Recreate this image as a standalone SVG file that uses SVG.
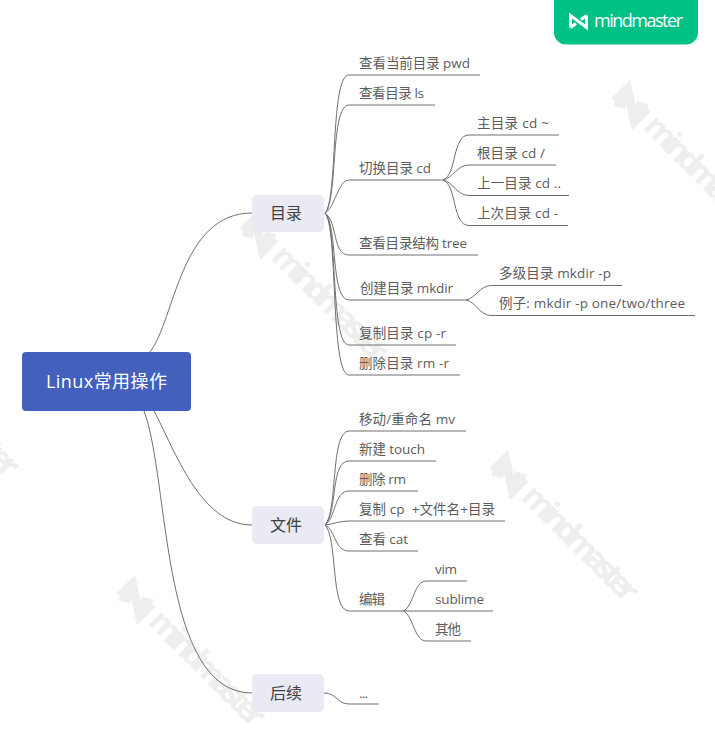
<svg xmlns="http://www.w3.org/2000/svg" width="715" height="732" viewBox="0 0 715 732">
<style>
text{font-family:"Open Sans","Noto Sans CJK SC",sans-serif}
.t{font-size:13.500px;fill:#5c5c5c}
.b{font-size:16px;fill:#404040}
.r{font-size:18px;fill:#fff}
.c{fill:none;stroke:#707070;stroke-width:1}
.n{fill:#e9eaf3}
.w{font-size:32px;font-weight:700;fill:#eeeeee}
.wi{fill:none;stroke:#eeeeee;stroke-width:9;stroke-linejoin:miter}
</style>
<defs>
<g id="wm">
<path class="wi" transform="translate(19 20) rotate(45)" d="M-14 9V-9L14 9V-9M-14 9L-4 3M14 -9L4 -3"/>
<text class="w" transform="translate(30 43) rotate(45)" textLength="150" lengthAdjust="spacing">mindmaster</text>
</g>
</defs>
<g id="watermarks">
<use href="#wm" x="612" y="85"/>
<use href="#wm" x="240" y="215"/>
<use href="#wm" x="490" y="455"/>
<use href="#wm" x="117" y="580"/>
<use href="#wm" x="-129" y="330"/>
</g>
<g id="badge">
<rect x="554" y="-12" width="144" height="56.500" rx="12" fill="#00c185"/>
<path d="M570.500 27.500V15.500L586.500 27.500V15.500M570.500 27.500L576 23.500M586.500 15.500L581 19.500" fill="none" stroke="#fff" stroke-width="3"/>
<text x="594" y="27" font-size="18" fill="#fff" textLength="89" lengthAdjust="spacing">mindmaster</text>
</g>
<g id="connectors">
<path class="c" d="M150 352C175 320 180 213 252 213"/>
<path class="c" d="M154 411C175 450 200 525 252 525"/>
<path class="c" d="M144 411C170 480 160 693 252 693"/>
<path class="c" d="M325 213C338 200 330 75 349 75H480"/>
<path class="c" d="M325 213C338 200 330 105 349 105H435"/>
<path class="c" d="M325 213C335 208 338 180 349 180H443"/>
<path class="c" d="M325 213C338 222 332 255 349 255H478"/>
<path class="c" d="M325 213C338 225 330 300 349 300H466"/>
<path class="c" d="M325 213C338 225 330 345 349 345H456"/>
<path class="c" d="M325 213C338 225 330 375 349 375H460"/>
<path class="c" d="M443 180C457 175 452 135 469 135H559"/>
<path class="c" d="M443 180C453 178 457 165 469 165H556"/>
<path class="c" d="M443 180C453 182 457 195.500 469 195.500H569"/>
<path class="c" d="M443 180C457 185 452 225.500 469 225.500H568"/>
<path class="c" d="M466 300C476 298 480 285.500 491 285.500H622"/>
<path class="c" d="M466 300C476 302 480 315.500 491 315.500H695"/>
<path class="c" d="M325 525C338 512 330 431 349 431H466"/>
<path class="c" d="M325 525C338 512 330 461 349 461H436"/>
<path class="c" d="M325 525C336 518 334 491 349 491H418"/>
<path class="c" d="M325 525C333 524 340 521 349 521H505"/>
<path class="c" d="M325 525C336 530 334 551 349 551H418"/>
<path class="c" d="M325 525C338 538 330 611 349 611H403"/>
<path class="c" d="M403 611C413 608 414 581 426 581H467"/>
<path class="c" d="M403 611H493"/>
<path class="c" d="M403 611C413 614 414 641 426 641H471"/>
<path class="c" d="M324 693C337 693 337 704 349 704H379"/>
</g>
<g id="root"><rect x="22" y="352" width="169" height="59" rx="4" fill="#4260bc"/><text class="r" x="46" y="388" textLength="121" lengthAdjust="spacing">Linux常用操作</text></g>
<g id="n-dir"><rect class="n" x="252" y="195" width="72" height="37" rx="5"/><text class="b" x="270" y="219">目录</text></g>
<g id="n-file"><rect class="n" x="252" y="506" width="72" height="38" rx="5"/><text class="b" x="270" y="531">文件</text></g>
<g id="n-next"><rect class="n" x="252" y="674" width="72" height="38" rx="5"/><text class="b" x="270" y="699">后续</text></g>
<g id="l1"><text class="t" x="359" y="68" textLength="111" lengthAdjust="spacing">查看当前目录 pwd</text></g>
<g id="l2"><text class="t" x="359" y="98" textLength="65" lengthAdjust="spacing">查看目录 ls</text></g>
<g id="l3"><text class="t" x="359" y="173" textLength="72" lengthAdjust="spacing">切换目录 cd</text></g>
<g id="l3a"><text class="t" x="477" y="128" textLength="72" lengthAdjust="spacing">主目录 cd ~</text></g>
<g id="l3b"><text class="t" x="477" y="158" textLength="68" lengthAdjust="spacing">根目录 cd /</text></g>
<g id="l3c"><text class="t" x="477" y="188" textLength="84" lengthAdjust="spacing">上一目录 cd ..</text></g>
<g id="l3d"><text class="t" x="477" y="218" textLength="81" lengthAdjust="spacing">上次目录 cd -</text></g>
<g id="l4"><text class="t" x="359" y="248" textLength="108" lengthAdjust="spacing">查看目录结构 tree</text></g>
<g id="l5"><text class="t" x="360" y="293" textLength="93" lengthAdjust="spacing">创建目录 mkdir</text></g>
<g id="l5a"><text class="t" x="499" y="278" textLength="112" lengthAdjust="spacing">多级目录 mkdir -p</text></g>
<g id="l5b"><text class="t" x="499" y="308" textLength="186" lengthAdjust="spacing">例子: mkdir -p one/two/three</text></g>
<g id="l6"><text class="t" x="359" y="338" textLength="87" lengthAdjust="spacing">复制目录 cp -r</text></g>
<g id="l7"><text class="t" x="359" y="368" textLength="90" lengthAdjust="spacing">删除目录 rm -r</text></g>
<g id="f1"><text class="t" x="359" y="424" textLength="96" lengthAdjust="spacing">移动/重命名 mv</text></g>
<g id="f2"><text class="t" x="359" y="454" textLength="66" lengthAdjust="spacing">新建 touch</text></g>
<g id="f3"><text class="t" x="359" y="484" textLength="47" lengthAdjust="spacing">删除 rm</text></g>
<g id="f4"><text class="t" x="359" y="514" textLength="136" lengthAdjust="spacing" xml:space="preserve">复制 cp  +文件名+目录</text></g>
<g id="f5"><text class="t" x="359" y="544" textLength="49" lengthAdjust="spacing">查看 cat</text></g>
<g id="f6"><text class="t" x="359" y="604" textLength="26" lengthAdjust="spacing">编辑</text></g>
<g id="f6a"><text class="t" x="435" y="574" textLength="22" lengthAdjust="spacing">vim</text></g>
<g id="f6b"><text class="t" x="435" y="604" textLength="49" lengthAdjust="spacing">sublime</text></g>
<g id="f6c"><text class="t" x="435" y="634" textLength="26" lengthAdjust="spacing">其他</text></g>
<g id="x1"><text class="t" x="359" y="698" textLength="9" lengthAdjust="spacing">...</text></g>
</svg>
